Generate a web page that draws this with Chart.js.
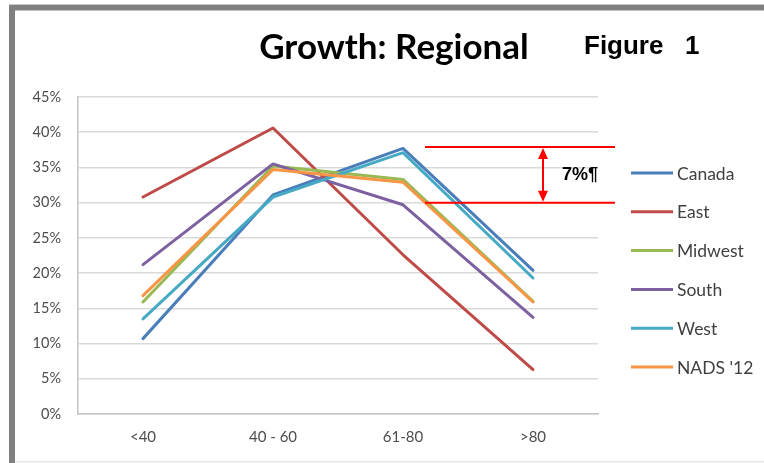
<!DOCTYPE html>
<html>
<head>
<meta charset="utf-8">
<script src="https://cdn.jsdelivr.net/npm/chart.js@4.4.1/dist/chart.umd.min.js"></script>
<style>
  html, body { margin: 0; padding: 0; background: #fff; }
  canvas { display: block; }
</style>
</head>
<body>
<canvas id="chart" width="764" height="463"></canvas>
<script>
// Age bands on the x axis
const categories = ['<40', '40 - 60', '61-80', '>80'];

// Share of growth per region, in percent
const canada  = [10.7, 31.1, 37.7, 20.4];
const east    = [30.8, 40.6, 22.6, 6.3];
const midwest = [15.9, 35.2, 33.3, 16.0];
const south   = [21.2, 35.5, 29.7, 13.7];
const west    = [13.5, 30.8, 37.1, 19.3];
const nads12  = [16.8, 34.7, 32.9, 15.9];

const seriesNames = ['Canada', 'East', 'Midwest', 'South', 'West', "NADS '12"];
const seriesValues = [canada, east, midwest, south, west, nads12];
const seriesColors = ['#4a7ebb', '#be4b48', '#98b954', '#7d60a0', '#46aac5', '#f79646'];

// Y axis range / ticks (percent)
const yMin = 0, yMax = 45, yStep = 5;

// Spread marker between the two bands around the 61-80 peak
const spreadTop = 37.9;
const spreadBottom = 30.0;
const spreadLabel = '7%¶';

const titleText = 'Growth: Regional';
const figureText = 'Figure   1';

const frameAndText = {
  id: 'frameAndText',
  beforeDraw(chart) {
    const ctx = chart.ctx;
    ctx.save();
    ctx.fillStyle = '#ffffff';
    ctx.fillRect(0, 0, chart.width, chart.height);
    // grey frame (top and left), thin light bottom edge
    ctx.fillStyle = '#c8c8c8';
    ctx.fillRect(9, 4, chart.width - 9, 1.5);
    ctx.fillStyle = '#808080';
    ctx.fillRect(9, 5, chart.width - 9, 5.5);
    ctx.fillRect(9, 5, 6, chart.height - 5);
    ctx.fillStyle = '#e6e6e6';
    ctx.fillRect(15, chart.height - 2, chart.width - 15, 1.5);
    ctx.restore();
  },
  afterDraw(chart) {
    const ctx = chart.ctx;
    const y = chart.scales.y;
    ctx.save();

    // Title
    ctx.fillStyle = '#000000';
    ctx.textBaseline = 'alphabetic';
    ctx.textAlign = 'center';
    ctx.font = 'bold 35px Lato, "Open Sans", sans-serif';
    ctx.fillText(titleText, 394, 59);

    ctx.textAlign = 'left';
    ctx.font = 'bold 26px "Liberation Sans", Arial, sans-serif';
    ctx.fillText(figureText, 584, 54);

    // Spread marker
    const yTop = y.getPixelForValue(spreadTop);
    const yBot = y.getPixelForValue(spreadBottom);
    ctx.strokeStyle = '#ff0000';
    ctx.fillStyle = '#ff0000';
    ctx.lineWidth = 2;
    ctx.beginPath();
    ctx.moveTo(425, yTop); ctx.lineTo(615, yTop);
    ctx.moveTo(425, yBot); ctx.lineTo(615, yBot);
    ctx.stroke();
    const ax = 543;
    ctx.beginPath();
    ctx.moveTo(ax, yTop + 8); ctx.lineTo(ax, yBot - 8);
    ctx.stroke();
    ctx.beginPath();
    ctx.moveTo(ax, yTop + 1); ctx.lineTo(ax - 5, yTop + 12); ctx.lineTo(ax + 5, yTop + 12); ctx.closePath();
    ctx.fill();
    ctx.beginPath();
    ctx.moveTo(ax, yBot - 1); ctx.lineTo(ax - 5, yBot - 12); ctx.lineTo(ax + 5, yBot - 12); ctx.closePath();
    ctx.fill();

    ctx.fillStyle = '#000000';
    ctx.font = 'bold 18px "Liberation Sans", Arial, sans-serif';
    ctx.textBaseline = 'middle';
    ctx.fillText(spreadLabel, 562, (yTop + yBot) / 2);

    // Legend
    ctx.font = '17.5px Lato, "Open Sans", sans-serif';
    ctx.lineWidth = 3;
    chart.data.datasets.forEach((ds, i) => {
      const ly = 173 + i * 38.8;
      ctx.strokeStyle = ds.borderColor;
      ctx.beginPath();
      ctx.moveTo(631, ly); ctx.lineTo(673, ly);
      ctx.stroke();
      ctx.fillStyle = '#404040';
      ctx.fillText(ds.label, 677, ly + 1);
    });
    ctx.restore();
  }
};

const datasets = seriesNames.map((name, i) => ({
  label: name,
  data: seriesValues[i],
  borderColor: seriesColors[i],
  backgroundColor: seriesColors[i],
  borderWidth: 3,
  pointRadius: 0,
  pointHoverRadius: 0,
  tension: 0,
  fill: false,
  borderCapStyle: 'round',
  borderJoinStyle: 'round',
  order: seriesNames.length - i
}));

new Chart(document.getElementById('chart'), {
  type: 'line',
  data: { labels: categories, datasets },
  options: {
    responsive: false,
    animation: false,
    events: [],
    layout: { padding: { left: 0, top: 97, right: 166, bottom: 0 } },
    plugins: { legend: { display: false }, title: { display: false }, tooltip: { enabled: false } },
    scales: {
      x: {
        offset: true,
        afterFit(scale) { scale.height = 49; },
        grid: { display: false, drawTicks: false },
        border: { display: true, color: '#c4c4c4', width: 1.5 },
        ticks: { padding: 14, color: '#4d4d4d', font: { family: 'Lato, "Open Sans", sans-serif', size: 15 } }
      },
      y: {
        min: yMin,
        max: yMax,
        afterFit(scale) { scale.width = 78; },
        grid: { color: '#d9d9d9', lineWidth: 1.5, drawTicks: false },
        border: { display: true, color: '#c4c4c4', width: 1.5 },
        ticks: {
          stepSize: yStep,
          padding: 17,
          color: '#4d4d4d',
          font: { family: 'Lato, "Open Sans", sans-serif', size: 14.5 },
          callback: v => v + '%'
        }
      }
    }
  },
  plugins: [frameAndText]
});
</script>
</body>
</html>
